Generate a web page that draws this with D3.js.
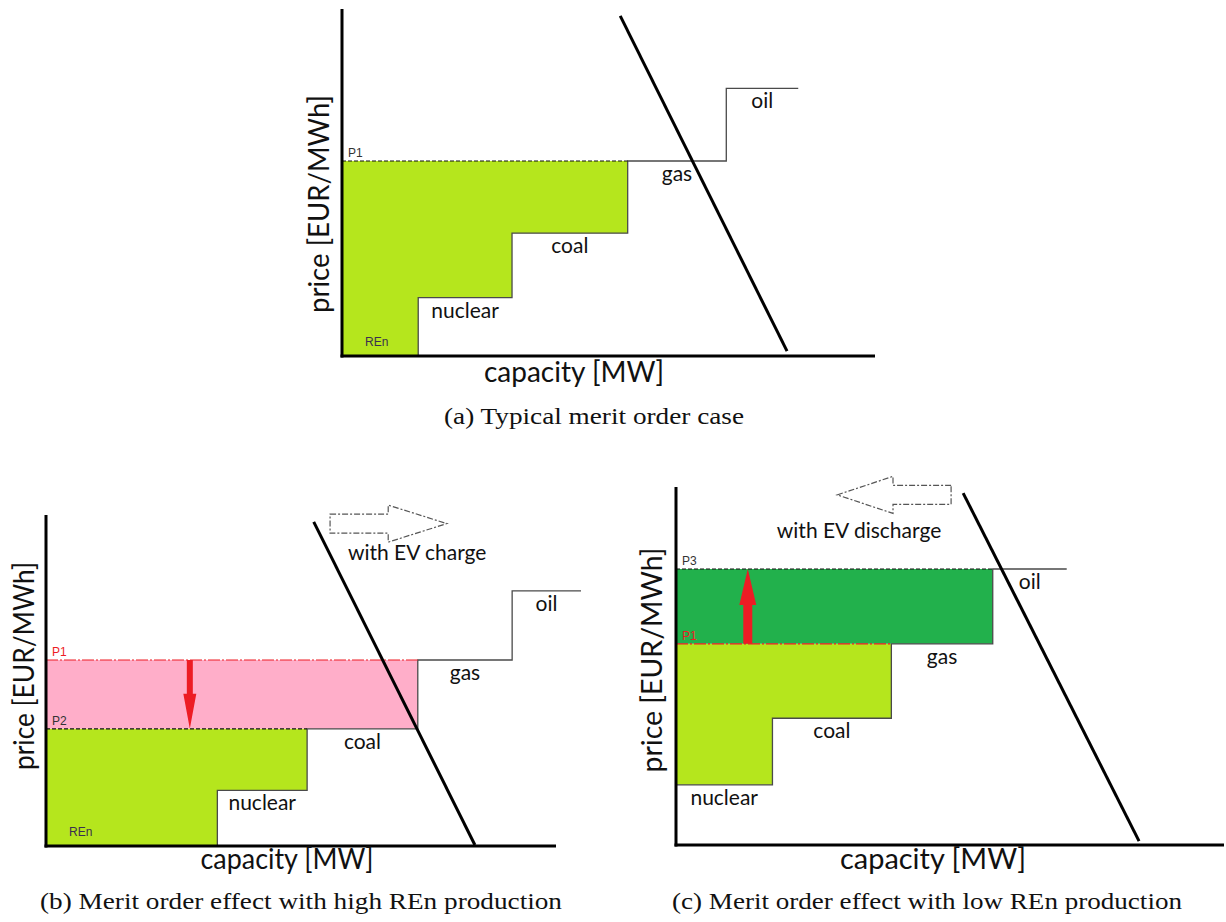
<!DOCTYPE html>
<html><head><meta charset="utf-8">
<script src="https://cdn.jsdelivr.net/npm/d3@7/dist/d3.min.js"></script>
<style>body{margin:0;background:#fff}svg{display:block}</style>
</head><body>
<svg id="chart" width="1226" height="922"></svg>
<script>
// ---------- data (capacity and price in relative units, 0-100) ----------
const techs = ["nuclear", "coal", "gas", "oil"];
const techWidths = [17.6, 21.7, 18.5, 13.5];     // capacity block of each technology
const techPrices = [16.8, 35.4, 56.2, 77.1];     // marginal price of each technology
const panelIds = ["a", "b", "c"];
const renCapacity = [14.3, 33.6, 0];             // REn capacity in each panel
const demandTop = [[52.2, 98.0], [52.5, 97.9], [52.4, 98.3]];
const demandBottom = [[83.5, 1.4], [84.1, 0.3], [84.5, 1.1]];
const captions = [
  "(a) Typical merit order case",
  "(b) Merit order effect with high REn production",
  "(c) Merit order effect with low REn production"
];
// filled price areas: [panel, lowTech (-1 = zero), highTech, colour key]
const fills = [
  ["a", -1, 2, "lime"],
  ["b", -1, 1, "lime"], ["b", 1, 2, "pink"],
  ["c", -1, 2, "lime"], ["c", 2, 3, "green"]
];
// price lines: [panel, label, tech, style]
const priceLines = [
  ["a", "P1", 2, "black"],
  ["b", "P1", 2, "red"], ["b", "P2", 1, "black"],
  ["c", "P3", 3, "black"], ["c", "P1", 2, "red"]
];
// price shift arrows: [panel, capacity, fromTech, toTech]
const shiftArrows = [["b", 28.2, 2, 1], ["c", 13.1, 2, 3]];
// EV demand shift arrows: [panel, tailCap, neckCap, tipCap, price, text, textCap, textPrice]
const evArrows = [
  ["b", 55.7, 67.1, 78.6, 97.4, "with EV charge", 59.2, 86.4],
  ["c", 50.2, 39.6, 29.4, 97.8, "with EV discharge", 18.4, 85.8]
];

// ---------- layout ----------
const frames = {
  a: {x0: 342, x1: 875, y0: 356, y1: 9,   xl: [574, 382, 180], yl: [329, 204, 218], cap: [594, 424, 300]},
  b: {x0: 46,  x1: 556, y0: 846, y1: 515, xl: [287, 869, 173], yl: [34, 666, 208],  cap: [301, 909, 522]},
  c: {x0: 676, x1: 1224, y0: 845, y1: 487, xl: [933, 869, 186], yl: [662, 660, 225], cap: [927, 909, 510]}
};
const colors = {lime: "#B5E61D", pink: "#FFAEC9", green: "#22B14C", red: "#ED1C24"};

const svg = d3.select("#chart");

panelIds.forEach((pid, pi) => {
  const f = frames[pid];
  const x = d3.scaleLinear().domain([0, 100]).range([f.x0, f.x1]);
  const y = d3.scaleLinear().domain([0, 100]).range([f.y0, f.y1]);
  const g = svg.append("g");

  // supply blocks
  const starts = [];
  let acc = renCapacity[pi];
  techWidths.forEach(w => { starts.push(acc); acc += w; });
  const blocks = techs.map((t, i) => ({name: t, start: starts[i], end: starts[i] + techWidths[i], price: techPrices[i]}));

  const xAtOrAbove = p => { const b = blocks.find(d => d.price >= p - 1e-9); return b ? b.start : blocks[blocks.length-1].end; };
  const xAbove = p => { const b = blocks.find(d => d.price > p + 1e-9); return b ? b.start : blocks[blocks.length-1].end; };

  const line = d3.line().x(d => x(d[0])).y(d => y(d[1]));

  // fills
  fills.filter(d => d[0] === pid).forEach(([, loT, hiT, col]) => {
    const lo = loT < 0 ? 0 : techPrices[loT];
    const hi = techPrices[hiT];
    const pts = [[0, lo], [xAbove(lo), lo]];
    blocks.filter(b => b.price > lo + 1e-9 && b.price < hi - 1e-9).forEach(b => {
      pts.push([b.start, b.price]);
      pts.push([xAbove(b.price), b.price]);
    });
    pts.push([xAtOrAbove(hi), hi]);
    pts.push([0, hi]);
    g.append("path").attr("d", line(pts) + "Z").attr("fill", colors[col]).attr("stroke", "none");
  });

  // step supply curve
  const stepPts = [[blocks[0].start, 0]];
  blocks.forEach((b, i) => {
    stepPts.push([b.start, b.price]);
    stepPts.push([b.end, b.price]);
    if (i < blocks.length - 1) stepPts.push([b.end, blocks[i+1].price]);
  });
  const stepClean = [];
  stepPts.forEach(p => {
    const last = stepClean[stepClean.length - 1];
    if (!last || last[0] !== p[0] || last[1] !== p[1]) stepClean.push(p);
  });
  g.append("path").attr("d", line(stepClean)).attr("fill", "none")
    .attr("stroke", "#4a4a4a").attr("stroke-width", 1.3);

  // price lines
  priceLines.filter(d => d[0] === pid).forEach(([, lab, t, style]) => {
    const p = techPrices[t];
    const xe = blocks[t].start;
    g.append("line").attr("x1", x(0)).attr("x2", x(xe)).attr("y1", y(p)).attr("y2", y(p))
      .attr("stroke", style === "red" ? colors.red : "#111")
      .attr("stroke-width", 1.2)
      .attr("stroke-dasharray", style === "red" ? "12,2,2,2" : "4,2");
    g.append("text").attr("x", x(0) + 6).attr("y", y(p) - 4)
      .attr("font-family", "Liberation Sans, Arial, sans-serif").attr("font-size", 12)
      .attr("fill", style === "red" ? colors.red : "#333").text(lab);
  });

  // REn label
  if (renCapacity[pi] > 0) {
    g.append("text").attr("x", x(0) + 23).attr("y", y(0) - 10)
      .attr("font-family", "Liberation Sans, Arial, sans-serif").attr("font-size", 12)
      .attr("fill", "#3a3050").text("REn");
  }

  // tech labels
  blocks.forEach(b => {
    g.append("text").attr("x", x((b.start + b.end) / 2)).attr("y", y(b.price) + 20)
      .attr("text-anchor", "middle").attr("font-family", "Lato, sans-serif")
      .attr("font-size", 21).attr("fill", "#111").text(b.name);
  });

  // demand line
  g.append("path").attr("d", line([demandTop[pi], demandBottom[pi]]))
    .attr("stroke", "#000").attr("stroke-width", 3).attr("fill", "none");

  // shift arrows (red)
  shiftArrows.filter(d => d[0] === pid).forEach(([, cap, fromT, toT]) => {
    const xc = x(cap), ys = y(techPrices[fromT]), ye = y(techPrices[toT]);
    const dir = Math.sign(ye - ys);
    const up = dir < 0;
    const sw = up ? 9 : 6, hw = up ? 17 : 13, hl = up ? 36 : 35;
    const yn = ye - dir * hl;
    const pts = [[xc - sw/2, ys], [xc - sw/2, yn], [xc - hw/2, yn], [xc, ye], [xc + hw/2, yn], [xc + sw/2, yn], [xc + sw/2, ys]];
    g.append("path").attr("d", "M" + pts.map(p => p.join(",")).join("L") + "Z").attr("fill", colors.red);
  });

  // EV outline arrows
  evArrows.filter(d => d[0] === pid).forEach(([, tail, neck, tip, pr, txt, tc, tp]) => {
    const yc = y(pr), bh = 9.5, hh = 18.5;
    const pts = [[x(tail), yc - bh], [x(neck), yc - bh], [x(neck), yc - hh], [x(tip), yc],
                 [x(neck), yc + hh], [x(neck), yc + bh], [x(tail), yc + bh]];
    g.append("path").attr("d", "M" + pts.map(p => p.join(",")).join("L") + "Z")
      .attr("fill", "none").attr("stroke", "#555").attr("stroke-width", 1.2)
      .attr("stroke-dasharray", "6,2,2,2");
    g.append("text").attr("x", x(tc)).attr("y", y(tp))
      .attr("font-family", "Lato, sans-serif").attr("font-size", 21).attr("fill", "#111").text(txt);
  });

  // axes
  g.append("line").attr("x1", f.x0).attr("x2", f.x0).attr("y1", f.y1).attr("y2", f.y0 + 1.5)
    .attr("stroke", "#000").attr("stroke-width", 3);
  g.append("line").attr("x1", f.x0 - 1.5).attr("x2", f.x1).attr("y1", f.y0).attr("y2", f.y0)
    .attr("stroke", "#000").attr("stroke-width", 3);

  // axis titles
  g.append("text").attr("x", f.xl[0]).attr("y", f.xl[1]).attr("text-anchor", "middle")
    .attr("font-family", "Lato, sans-serif").attr("font-size", 28).attr("fill", "#111")
    .attr("textLength", f.xl[2]).attr("lengthAdjust", "spacingAndGlyphs").text("capacity [MW]");
  g.append("text").attr("transform", `translate(${f.yl[0]},${f.yl[1]}) rotate(-90)`)
    .attr("text-anchor", "middle").attr("font-family", "Lato, sans-serif").attr("font-size", 28)
    .attr("fill", "#111").attr("textLength", f.yl[2]).attr("lengthAdjust", "spacingAndGlyphs")
    .text("price [EUR/MWh]");

  // caption
  g.append("text").attr("x", f.cap[0]).attr("y", f.cap[1]).attr("text-anchor", "middle")
    .attr("font-family", "Liberation Serif, 'DejaVu Serif', serif").attr("font-size", 22.5)
    .attr("fill", "#111").attr("textLength", f.cap[2]).attr("lengthAdjust", "spacingAndGlyphs")
    .text(captions[pi]);
});
</script>
</body></html>
